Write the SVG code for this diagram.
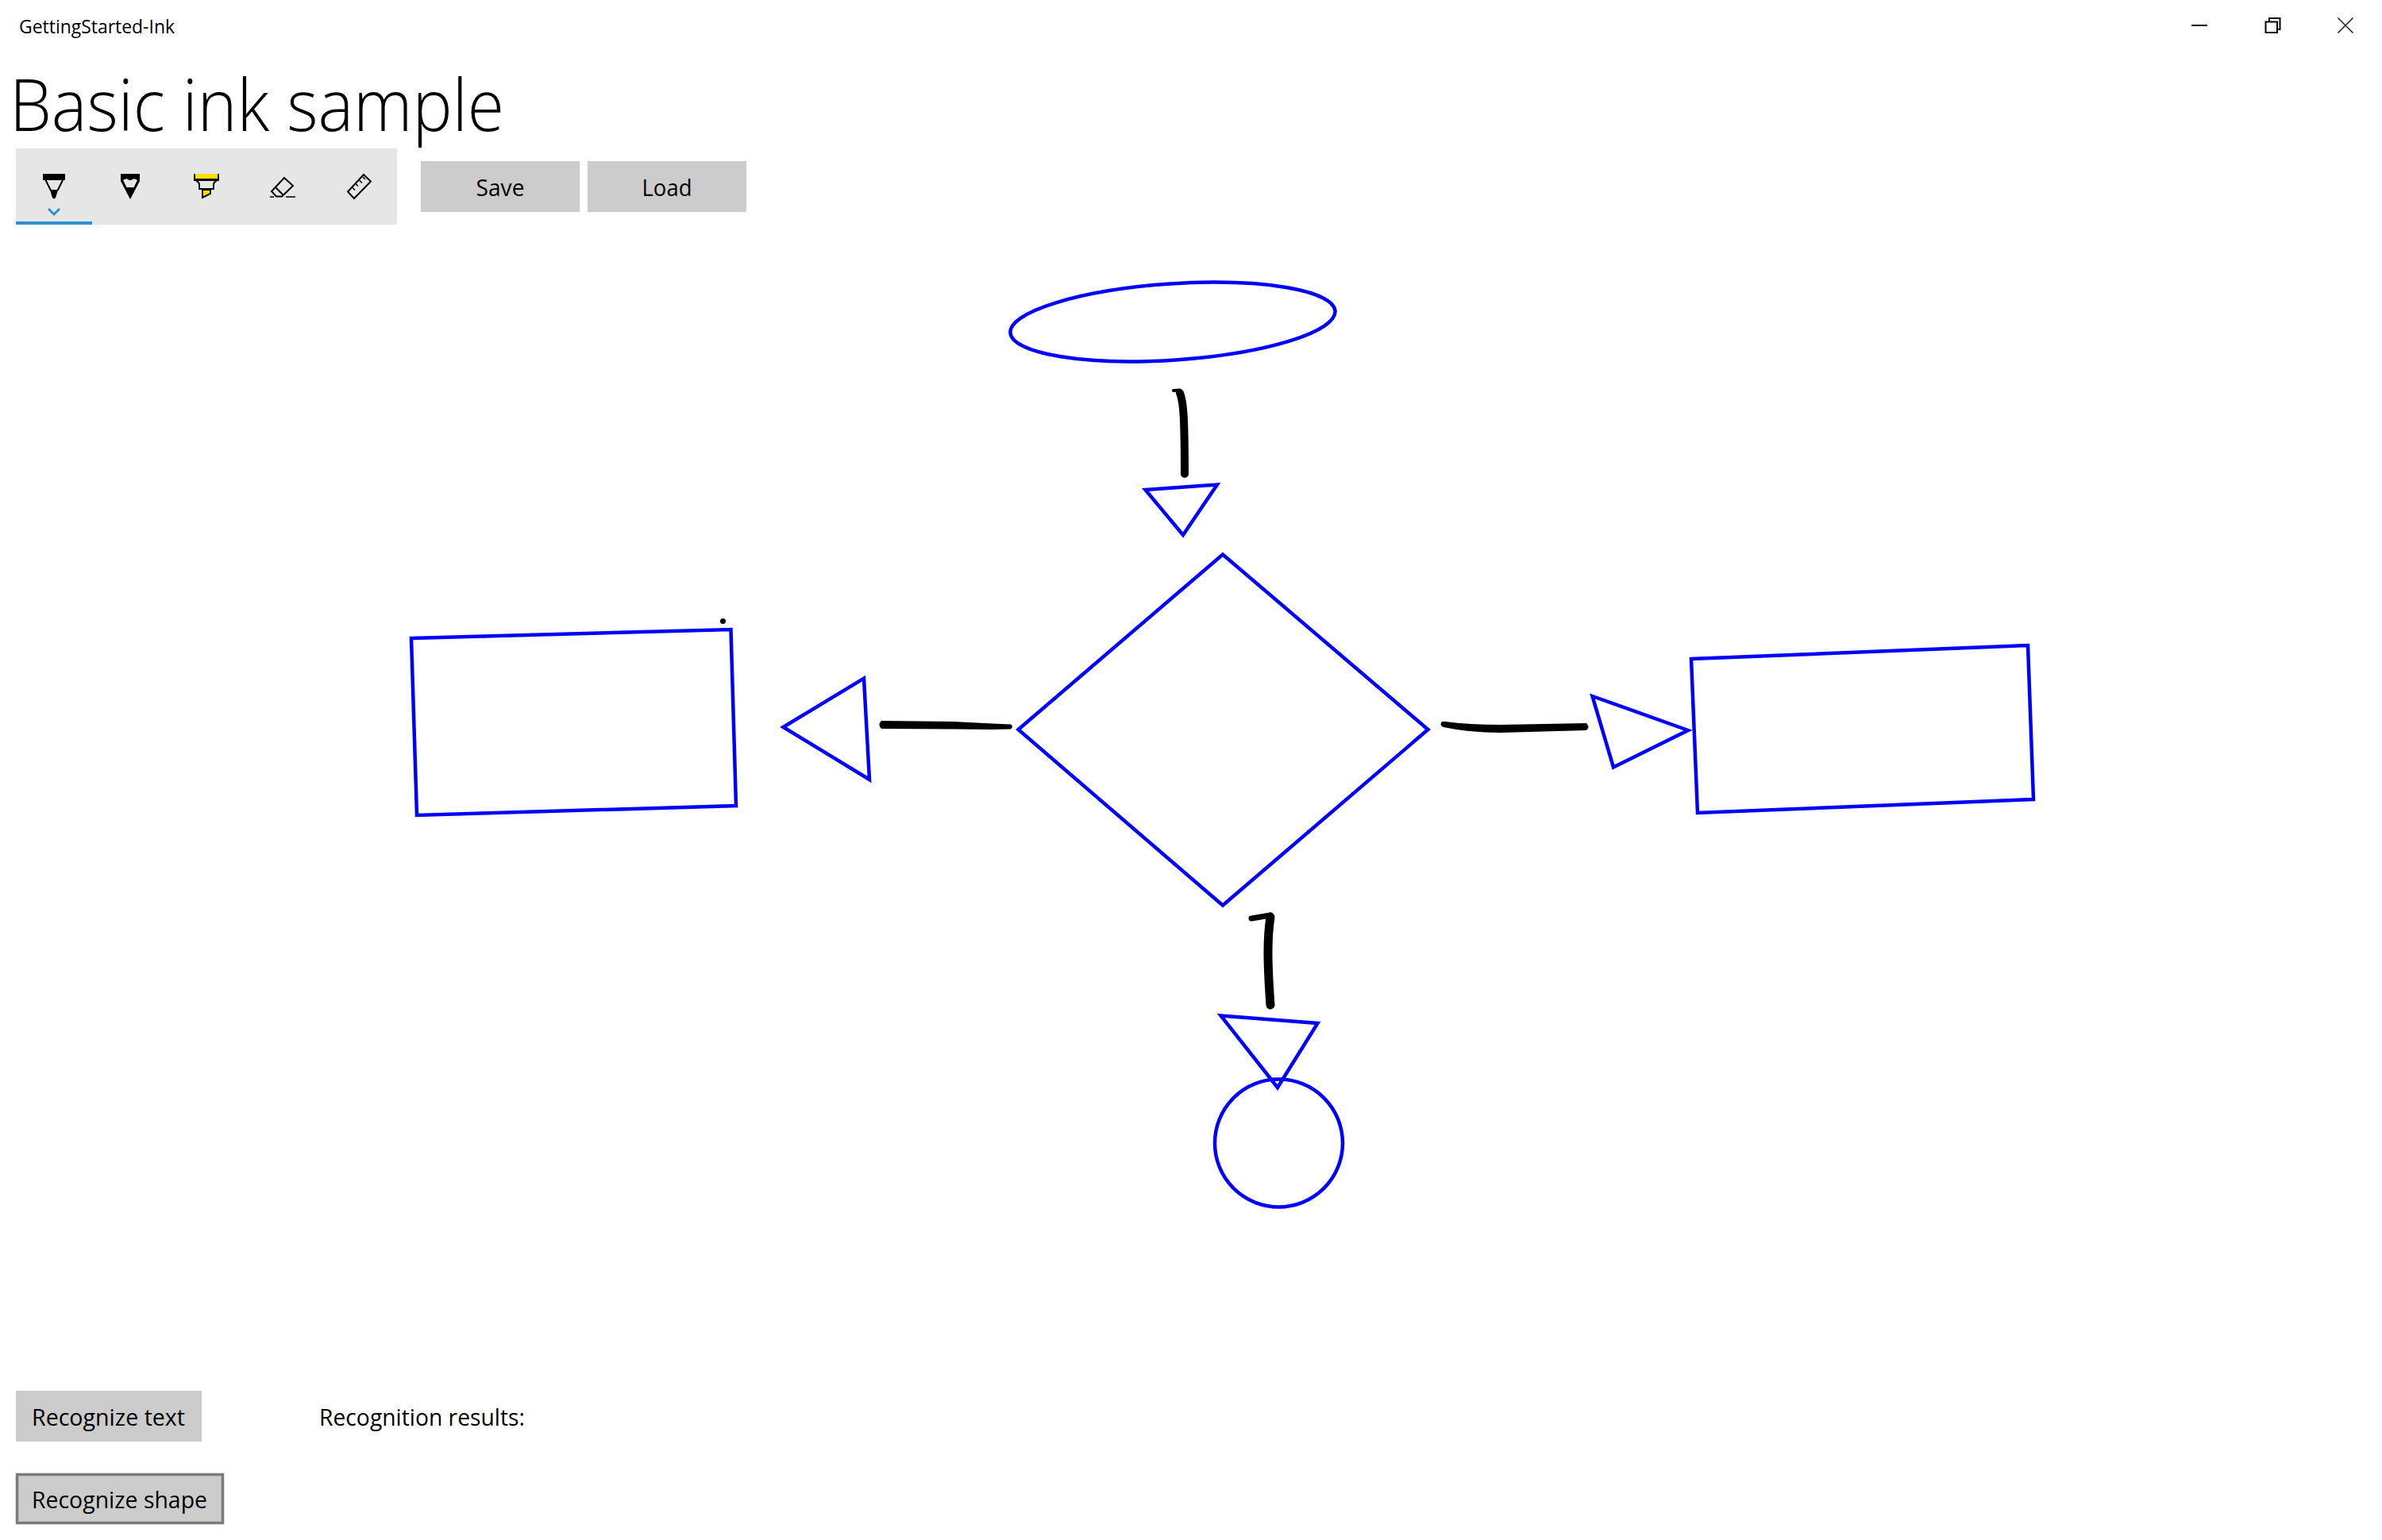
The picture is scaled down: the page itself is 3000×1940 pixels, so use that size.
<svg xmlns="http://www.w3.org/2000/svg" width="3000" height="1940" viewBox="0 0 3000 1940">
<style>
text{font-family:"Open Sans","Noto Sans","Liberation Sans",sans-serif;fill:#000}
.lbl{font-size:29px}
.btn{fill:#ccc}
.shape{fill:none;stroke:#00f;stroke-width:4.500;stroke-linejoin:miter;stroke-miterlimit:10}
.ink{fill:none;stroke:#000;stroke-linecap:round;stroke-linejoin:round}
.ic{fill:none;stroke:#000;stroke-width:2}
</style>
<rect width="3000" height="1940" fill="#fff"/>
<g id="titlebar">
<text x="24" y="42" font-size="24" textLength="196" lengthAdjust="spacingAndGlyphs">GettingStarted-Ink</text>
<rect x="2760" y="31" width="20" height="2" fill="#000"/>
<path d="M2853.500 27.500H2868V41H2853.500ZM2858 27V23H2871.500V37H2868" fill="none" stroke="#000" stroke-width="2"/>
<path d="M2944.500 22.500L2963.500 41.500M2963.500 22.500L2944.500 41.500" fill="none" stroke="#222" stroke-width="1.600"/>
</g>
<text id="heading" x="12" y="165" font-size="90" font-weight="300" textLength="623" lengthAdjust="spacingAndGlyphs">Basic ink sample</text>
<g id="toolbar">
<rect x="20" y="187" width="480" height="96" fill="#e6e6e6"/>
<rect x="20" y="279" width="96" height="4" fill="#2b8fd2"/>
<g id="tool-pen">
<rect x="54" y="219" width="28" height="8" fill="#000"/>
<path class="ic" d="M57.500 227L64 240M79 227L72.500 240"/>
<path d="M63 239H73L70.500 248Q68 253 65.500 248Z" fill="#000"/>
<path d="M61 263L68 270L75 263" fill="none" stroke="#2b8fd2" stroke-width="3"/>
</g>
<g id="tool-pencil">
<path d="M152 219H176V228L164 251L152 228Z" fill="#000"/>
<path d="M155 227Q159 224 161 226Q164 228 167 226Q169 224 173 227L168.500 236H159.500Z" fill="#e6e6e6"/>
</g>
<g id="tool-highlighter">
<rect x="244" y="219" width="32" height="9" fill="#000"/>
<rect x="246" y="219" width="28" height="6" fill="#ffe100"/>
<path class="ic" d="M247 228Q251 229 251 233V238H269V233Q269 229 273 228M251 238H269"/>
<path d="M255 239H265V244L255 249Z" fill="#ffe100" stroke="#000" stroke-width="2"/>
</g>
<g id="tool-eraser">
<path class="ic" d="M358 224L369 234L355 247.500H348L342 241ZM347 236L357 246"/>
<path d="M340 248H345M360 248H372" fill="none" stroke="#000" stroke-width="1.600"/>
</g>
<g id="tool-ruler">
<path class="ic" d="M458 220L467 228.500L446 250L438 241.500Z"/>
<path d="M443.500 236L447 239.500M448 231.500L451 234.500M452.500 227L456 230.500M457 223L460 226" fill="none" stroke="#000" stroke-width="1.500"/>
</g>
</g>
<g id="save">
<rect class="btn" x="530" y="203" width="200" height="64"/>
<text class="lbl" x="630" y="246.500" text-anchor="middle" textLength="61" lengthAdjust="spacingAndGlyphs">Save</text>
</g>
<g id="load">
<rect class="btn" x="740" y="203" width="200" height="64"/>
<text class="lbl" x="840" y="246.500" text-anchor="middle" textLength="63" lengthAdjust="spacingAndGlyphs">Load</text>
</g>
<g id="recognize-text">
<rect class="btn" x="20" y="1752" width="234" height="64"/>
<text class="lbl" x="40" y="1795.500" textLength="193" lengthAdjust="spacingAndGlyphs">Recognize text</text>
</g>
<g id="results">
<text class="lbl" x="402" y="1795.500" textLength="259" lengthAdjust="spacingAndGlyphs">Recognition results:</text>
</g>
<g id="recognize-shape">
<rect x="21.500" y="1857.500" width="259" height="61" fill="#ccc" stroke="#7a7a7a" stroke-width="3.500"/>
<text class="lbl" x="40" y="1899.500" textLength="221" lengthAdjust="spacingAndGlyphs">Recognize shape</text>
</g>
<g id="start"><ellipse class="shape" cx="1477" cy="405.500" rx="205" ry="48" transform="rotate(-3.830 1477 405.500)"/></g>
<g id="decision"><path class="shape" d="M1540 698.500L1798.500 919L1540 1140.500L1282.500 919Z"/></g>
<g id="left-box"><path class="shape" d="M518 804L920.500 793L927 1015L525 1027Z"/></g>
<g id="right-box"><path class="shape" d="M2130 830L2554 813L2561 1007L2138 1024Z"/></g>
<g id="end"><circle class="shape" cx="1610.500" cy="1440" r="80.500"/></g>
<g id="connectors">
<path class="shape" d="M1442.500 617L1533 610.500L1490 674Z"/>
<path class="shape" d="M986.500 916L1088 854.500L1095 982Z"/>
<path class="shape" d="M2005.500 877L2126 920L2032 966.500Z"/>
<path class="shape" d="M1537.500 1279.500L1659.500 1289L1609 1370Z"/>
<path class="ink" stroke-width="4" d="M1478 492L1486 491.500"/>
<path class="ink" stroke-width="10" d="M1486 495Q1490 505 1491 530T1492 597"/>
<path d="M1110 908Q1105 913 1110 918L1200 918.500L1250 919L1273 918.500Q1277 915 1273 912.500L1250 911.500L1200 909Z" fill="#000"/>
<path d="M1816 909Q1812 914 1818 916Q1850 923 1890 923L1998 920Q2003 916 1998 911L1890 913Q1850 913 1820 909Z" fill="#000"/>
<path class="ink" stroke-width="7" d="M1576 1157L1600 1153"/>
<path class="ink" stroke-width="11" d="M1600 1155Q1597 1175 1597 1200T1600 1266"/>
<circle cx="910.500" cy="782.500" r="3.500" fill="#000"/>
</g>
</svg>
